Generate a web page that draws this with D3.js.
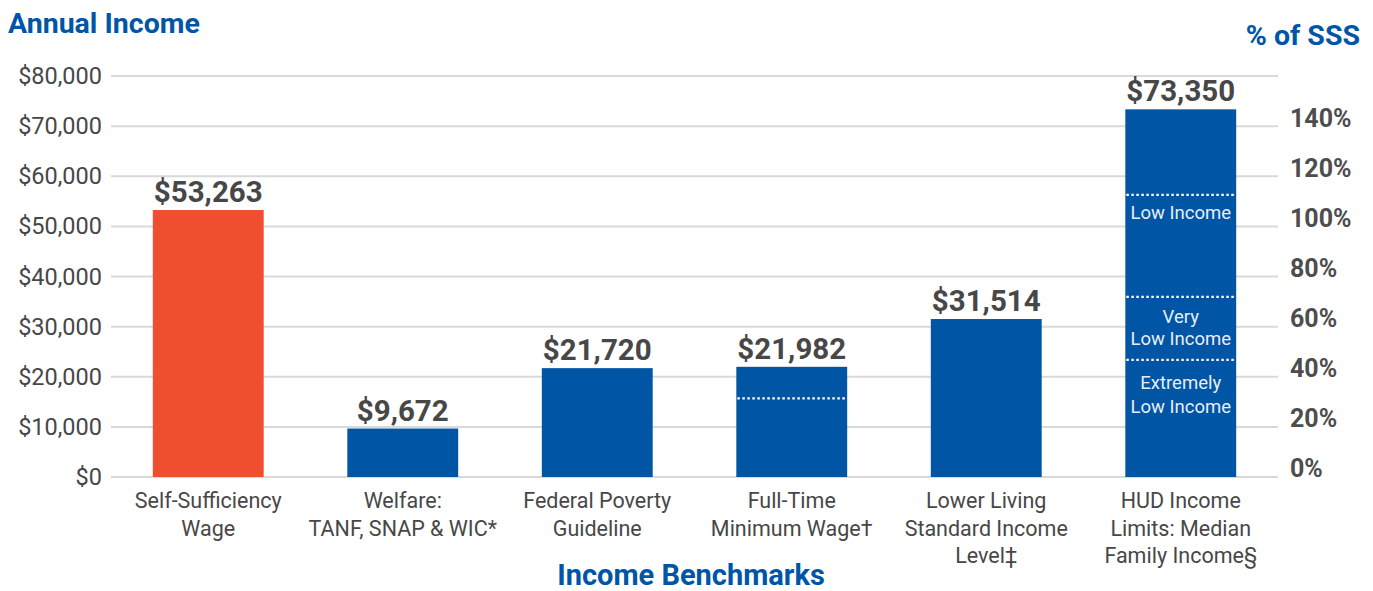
<!DOCTYPE html>
<html>
<head>
<meta charset="utf-8">
<script src="https://cdn.jsdelivr.net/npm/d3@7"></script>
<style>
  body { margin: 0; background: #fff; }
  svg { display: block; font-family: Roboto, "Noto Sans", sans-serif; }
</style>
</head>
<body>
<svg id="chart" width="1373" height="591"></svg>
<script>
// chart data
const categories = [
  "Self-Sufficiency\nWage",
  "Welfare:\nTANF, SNAP & WIC*",
  "Federal Poverty\nGuideline",
  "Full-Time\nMinimum Wage†",
  "Lower Living\nStandard Income\nLevel‡",
  "HUD Income\nLimits: Median\nFamily Income§"
];
const values = [53263, 9672, 21720, 21982, 31514, 73350];
const incomeTicks = [0, 10000, 20000, 30000, 40000, 50000, 60000, 70000, 80000];
const sssTicks = [0, 20, 40, 60, 80, 100, 120, 140];
// dotted reference lines inside bars
const minWageLine = 15700;
const hudLimits = [56300, 35950, 23350];
const hudLabels = ["Low Income", "Very\nLow Income", "Extremely\nLow Income"];

const blue = "#0055a5", orange = "#ef4f30", grey = "#474747";

const svg = d3.select("#chart");
const plotLeft = 111, plotRight = 1278, plotTop = 76, plotBottom = 477;

const x = d3.scaleBand().domain(categories).range([plotLeft, plotRight]).paddingInner(0.43).paddingOuter(0.215);
const y = d3.scaleLinear().domain([0, 80000]).range([plotBottom, plotTop]);
// secondary axis sits a few px above the gridlines, as in the original
const y2 = d3.scaleLinear().domain([0, 140]).range([468, 118]);

// gridlines
svg.append("g")
  .selectAll("line")
  .data(incomeTicks)
  .join("line")
    .attr("x1", plotLeft).attr("x2", plotRight)
    .attr("y1", d => y(d)).attr("y2", d => y(d))
    .attr("stroke", "#d9d9d9").attr("stroke-width", 2);

// left axis labels
const yAxis = svg.append("g")
  .attr("transform", `translate(${plotLeft},0)`)
  .call(d3.axisLeft(y).tickValues(incomeTicks).tickSize(0).tickPadding(9)
    .tickFormat(d => "$" + d3.format(",")(d)));
yAxis.select(".domain").remove();
yAxis.selectAll("text").attr("font-size", 23.5).attr("fill", grey).attr("font-family", "Roboto");

// right axis labels
const yAxis2 = svg.append("g")
  .attr("transform", `translate(${plotRight},0)`)
  .call(d3.axisRight(y2).tickValues(sssTicks).tickSize(0).tickPadding(12)
    .tickFormat(d => d + "%"));
yAxis2.select(".domain").remove();
yAxis2.selectAll("text").attr("font-size", 25).attr("font-weight", "bold")
  .attr("fill", "#4d4d4d").attr("font-family", "Roboto");

// bars
svg.append("g")
  .selectAll("rect")
  .data(values)
  .join("rect")
    .attr("x", (d, i) => x(categories[i]))
    .attr("y", d => y(d))
    .attr("width", x.bandwidth())
    .attr("height", d => y(0) - y(d))
    .attr("fill", (d, i) => i === 0 ? orange : blue);

// value labels
svg.append("g")
  .selectAll("text")
  .data(values)
  .join("text")
    .attr("x", (d, i) => x(categories[i]) + x.bandwidth() / 2)
    .attr("y", d => y(d) - 8)
    .attr("text-anchor", "middle")
    .attr("font-size", 29.5).attr("font-weight", "bold").attr("fill", grey)
    .text(d => "$" + d3.format(",")(d));

// dotted lines
const minCat = categories[3], hudCat = categories[5];
const dotted = [{ cat: minCat, v: minWageLine }].concat(hudLimits.map(v => ({ cat: hudCat, v })));
svg.append("g")
  .selectAll("line")
  .data(dotted)
  .join("line")
    .attr("x1", d => x(d.cat) + 1).attr("x2", d => x(d.cat) + x.bandwidth() - 1)
    .attr("y1", d => y(d.v)).attr("y2", d => y(d.v))
    .attr("stroke", "#fff").attr("stroke-width", 2.2).attr("stroke-dasharray", "2.5,2.5");

// labels inside HUD bar
const labelOffsets = [24, 26, 29], labelGaps = [0, 22, 24];
const hudG = svg.append("g").attr("font-size", 18.5).attr("fill", "#e8eef7").attr("text-anchor", "middle");
hudLimits.forEach((v, i) => {
  const t = hudG.append("text")
    .attr("x", x(hudCat) + x.bandwidth() / 2)
    .attr("y", y(v) + labelOffsets[i]);
  hudLabels[i].split("\n").forEach((line, j) => {
    t.append("tspan").attr("x", x(hudCat) + x.bandwidth() / 2)
      .attr("dy", j === 0 ? 0 : labelGaps[i]).text(line);
  });
});

// category labels
const catG = svg.append("g").attr("font-size", 21.5).attr("fill", grey).attr("text-anchor", "middle");
categories.forEach(c => {
  const t = catG.append("text").attr("y", 508);
  c.split("\n").forEach((line, j) => {
    t.append("tspan").attr("x", x(c) + x.bandwidth() / 2)
      .attr("dy", j === 0 ? 0 : 27.5).text(line);
  });
});

// titles
svg.append("text").attr("x", 8).attr("y", 33)
  .attr("font-size", 28.5).attr("font-weight", "bold").attr("fill", blue)
  .text("Annual Income");
svg.append("text").attr("x", 1360).attr("y", 45).attr("text-anchor", "end")
  .attr("font-size", 28.5).attr("font-weight", "bold").attr("fill", blue)
  .text("% of SSS");
svg.append("text").attr("x", 691).attr("y", 585).attr("text-anchor", "middle")
  .attr("font-size", 29).attr("font-weight", "bold").attr("fill", blue)
  .text("Income Benchmarks");
</script>
</body>
</html>
